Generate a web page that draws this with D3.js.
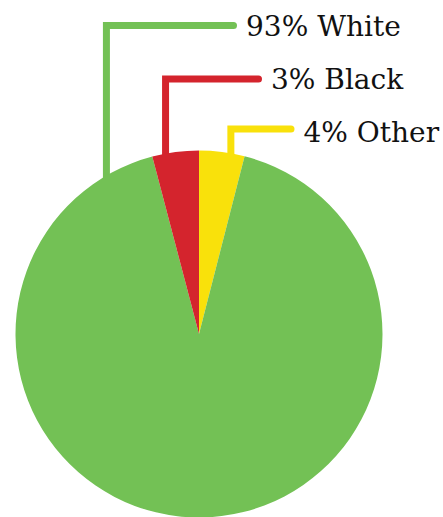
<!DOCTYPE html>
<html>
<head>
<meta charset="utf-8">
<script src="https://cdn.jsdelivr.net/npm/d3@7"></script>
<style>
  html, body { margin: 0; padding: 0; background: #fff; }
  svg { display: block; }
</style>
</head>
<body>
<svg id="chart" width="443" height="517"></svg>
<script>
// Data (clockwise from 12 o'clock)
const categories = ["Other", "White", "Black"];
const values = [4, 92, 4.1];
const labels = ["4% Other", "93% White", "3% Black"];
const colors = ["#f9e10b", "#73c155", "#d4242d"];

const svg = d3.select("#chart");
const W = 443, H = 517;
const cx = 199, cy = 334, R = 183.5;

const pie = d3.pie().sort(null).value(d => d)(values);
const arc = d3.arc().innerRadius(0).outerRadius(R);

const g = svg.append("g").attr("transform", `translate(${cx},${cy})`);

// Leader layout: attach angle on the rim (degrees, clockwise from top), horizontal line y, line end x
const leader = [
  { angle: 10.0, y: 129, endX: 291, textY: 142 },
  { angle: -30.3, y: 25.5, endX: 233.5, textY: 36 },
  { angle: -10.5, y: 79, endX: 258.5, textY: 89 }
];

// Leader lines (drawn first so pie covers their bottom ends)
leader.forEach((l, i) => {
  const a = l.angle * Math.PI / 180;
  const px = cx + R * Math.sin(a);
  const py = cy - R * Math.cos(a) + 8;
  svg.append("path")
    .attr("d", d3.line()([[px, py], [px, l.y], [l.endX, l.y]]))
    .attr("fill", "none")
    .attr("stroke", colors[i])
    .attr("stroke-width", 7)
    .attr("stroke-linejoin", "miter")
    .attr("stroke-linecap", "round");
  svg.append("text")
    .attr("x", l.endX + 12.5)
    .attr("y", l.textY)
    .attr("font-family", "'DejaVu Serif', serif")
    .attr("font-size", 28)
    .attr("fill", "#111")
    .text(labels[i]);
});

svg.node().appendChild(g.node());

g.selectAll("path.slice")
  .data(pie)
  .join("path")
  .attr("class", "slice")
  .attr("d", arc)
  .attr("fill", (d, i) => colors[i]);
</script>
</body>
</html>
